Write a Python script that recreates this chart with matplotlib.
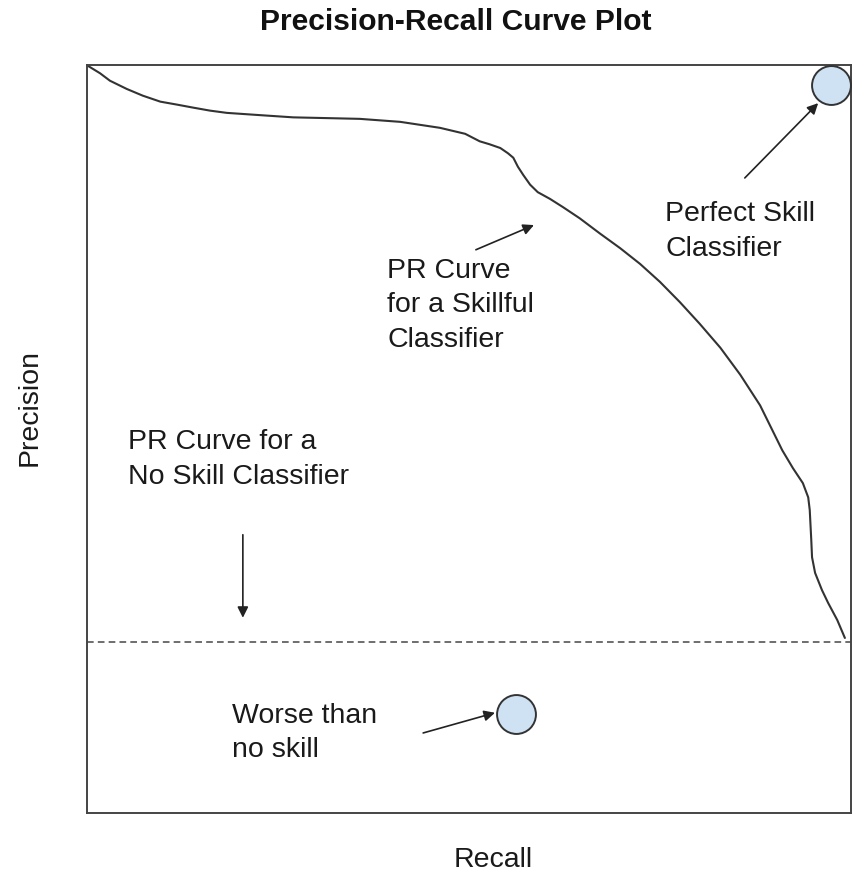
import matplotlib
matplotlib.use("Agg")
import matplotlib.pyplot as plt

plt.rcParams['font.family'] = ['Liberation Sans', 'DejaVu Sans']

# PR curve for a skillful classifier (recall, precision)
recall = [0.001, 0.017, 0.030, 0.052, 0.073, 0.096, 0.118, 0.139, 0.161, 0.183,
          0.226, 0.270, 0.314, 0.357, 0.410, 0.462, 0.495, 0.514, 0.527, 0.541,
          0.551, 0.558, 0.564, 0.571, 0.580, 0.590, 0.606, 0.623, 0.645, 0.671,
          0.698, 0.724, 0.750, 0.776, 0.802, 0.829, 0.855, 0.881, 0.910, 0.924,
          0.937, 0.944, 0.946, 0.948, 0.949, 0.953, 0.962, 0.970, 0.982, 0.992]
precision = [0.999, 0.989, 0.979, 0.968, 0.959, 0.951, 0.947, 0.943, 0.939, 0.936,
             0.933, 0.930, 0.929, 0.928, 0.924, 0.916, 0.908, 0.898, 0.894, 0.889,
             0.882, 0.876, 0.864, 0.853, 0.840, 0.830, 0.821, 0.810, 0.795, 0.775,
             0.755, 0.734, 0.710, 0.683, 0.654, 0.622, 0.586, 0.545, 0.485, 0.461,
             0.441, 0.422, 0.405, 0.365, 0.342, 0.321, 0.298, 0.281, 0.258, 0.234]

no_skill_level = 0.2286
perfect_point = (0.974, 0.973)
worse_point = (0.561, 0.133)

labels = ["Perfect Skill\nClassifier",
          "PR Curve\nfor a Skillful\nClassifier",
          "PR Curve for a\nNo Skill Classifier",
          "Worse than\nno skill"]
label_pos = [(0.757, 0.818), (0.393, 0.742), (0.054, 0.513), (0.190, 0.147)]
arrows = [((0.861, 0.849), (0.957, 0.949)),
          ((0.509, 0.753), (0.585, 0.786)),
          ((0.204, 0.372), (0.204, 0.261)),
          ((0.440, 0.107), (0.534, 0.134))]

fig = plt.figure(figsize=(8.54, 8.73), dpi=100)
ax = fig.add_axes([87/854, 60/873, 764/854, 748/873])
ax.set_xlim(0, 1)
ax.set_ylim(0, 1)
ax.set_xticks([])
ax.set_yticks([])
for s in ax.spines.values():
    s.set_color('#444444')
    s.set_linewidth(1.4)

ax.plot(recall, precision, color='#333333', lw=1.5, solid_capstyle='round',
        solid_joinstyle='round')
ax.axhline(no_skill_level, color='#555555', lw=1.2, dashes=(4, 2.5))

ax.plot([perfect_point[0], worse_point[0]], [perfect_point[1], worse_point[1]],
        ls='none', marker='o', ms=28, mfc='#cfe2f3', mec='#333333', mew=1.4,
        clip_on=False, zorder=5)

for (tail, tip) in arrows:
    ax.annotate('', xy=tip, xytext=tail,
                arrowprops=dict(arrowstyle='-|>', color='#222222', lw=1.2,
                                mutation_scale=16, shrinkA=0, shrinkB=0))

for txt, (x, y) in zip(labels, label_pos):
    ax.text(x, y, txt, ha='left', va='top', fontsize=20.5, color='#1a1a1a',
            linespacing=1.42)

fig.text(456/854, 1 - 22/873, "Precision-Recall Curve Plot", ha='center',
         va='center', fontsize=21.6, fontweight='bold', color='#111111')
fig.text(493/854, 1 - 860/873, "Recall", ha='center', va='center',
         fontsize=20.5, color='#1a1a1a')
fig.text(30/854, 1 - 408/873, "Precision", ha='center', va='center',
         rotation=90, fontsize=20.5, color='#1a1a1a')

fig.savefig("out.png", dpi=100, facecolor='white')
